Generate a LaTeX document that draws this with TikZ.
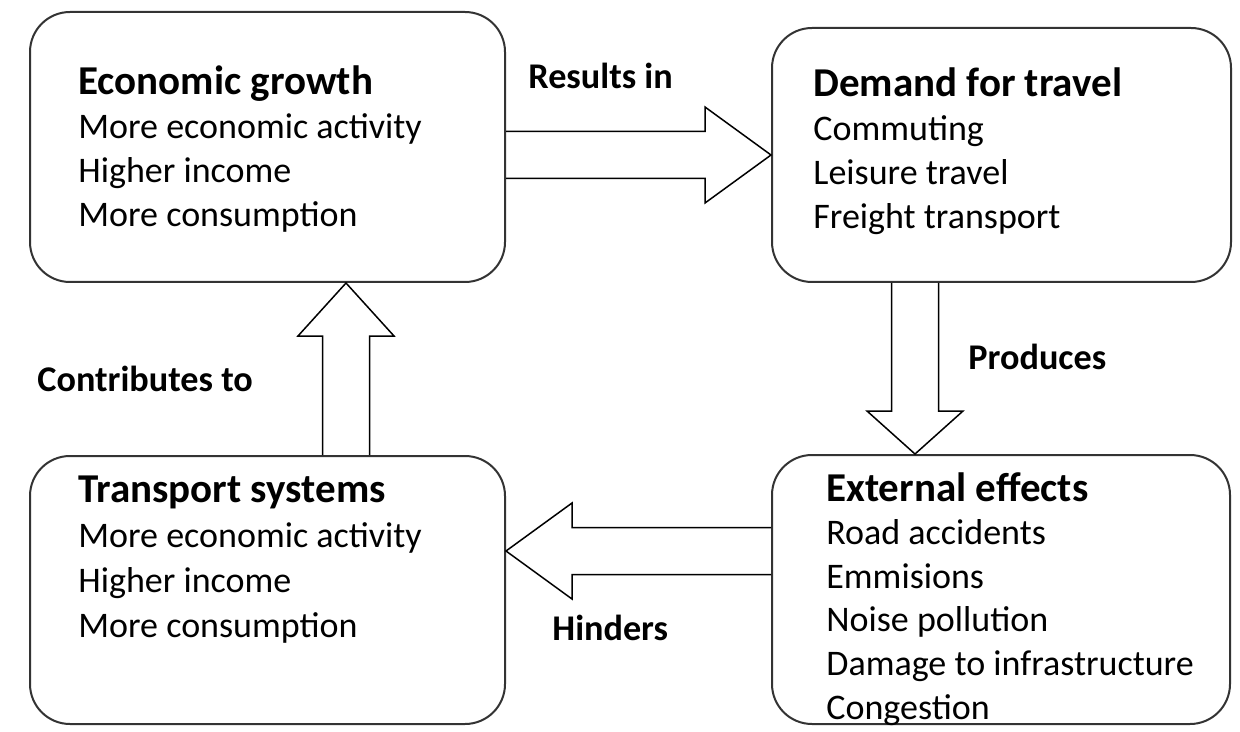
\documentclass[tikz,border=0pt]{standalone}
\usepackage{fontspec}
\setmainfont{Carlito}
\usetikzlibrary{calc}
\newcommand{\boxColor}{black!80}
\newcommand{\arrowColor}{black}
\newcommand{\shaftW}{11.75pt}
\newcommand{\headW}{24pt}
\newcommand{\drawBlockArrow}[3]{
	\coordinate (hb) at ($(#2)!#3!(#1)$);
	\draw[blockArrow] ($(#1)!\shaftW!90:(#2)$) -- ($(hb)!\shaftW!90:(#2)$)
		-- ($(hb)!\headW!90:(#2)$) -- (#2) -- ($(hb)!\headW!-90:(#2)$)
		-- ($(hb)!\shaftW!-90:(#2)$) -- ($(#1)!\shaftW!-90:(#2)$);
}
\tikzset{box/.style = {draw=\boxColor, line width=1pt, rounded corners=20pt}}
\tikzset{blockArrow/.style = {draw=\arrowColor, line width=0.75pt, line join=miter}}
\tikzset{title/.style = {font=\bfseries\fontsize{20.5}{24}\selectfont, anchor=base west, inner sep=0pt}}
\tikzset{item/.style = {font=\fontsize{18}{22}\selectfont, anchor=base west, inner sep=0pt}}
\tikzset{arrowLabel/.style = {font=\bfseries\fontsize{18.1}{22}\selectfont, anchor=base west, inner sep=0pt}}

\begin{document}
\begin{tikzpicture}[x=0.5pt, y=-0.5pt]
	\useasboundingbox (0,0) rectangle (1240,732);

	% boxes
	\node[box, minimum width=237.5pt, minimum height=135pt] (growth) at (267.5,147) {};
	\node[box, minimum width=229.5pt, minimum height=127pt] (demand) at (1001.5,155) {};
	\node[box, minimum width=237.5pt, minimum height=134pt] (transport) at (267.5,590) {};
	\node[box, minimum width=229pt, minimum height=134.5pt] (effects) at (1001,589.5) {};

	% box texts
	\node[title] (growthTitle) at (78,95) {Economic growth};
	\foreach \t [count=\i] in {More economic activity, Higher income, More consumption}
	{
		\node[item] (growth\i) at (78,95+44*\i) {\t};
	}

	\node[title] (demandTitle) at (813,97) {Demand for travel};
	\foreach \t [count=\i] in {Commuting, Leisure travel, Freight transport}
	{
		\node[item] (demand\i) at (813,97+44*\i) {\t};
	}

	\node[title] (transportTitle) at (78,502) {Transport systems};
	\foreach \t [count=\i] in {More economic activity, Higher income, More consumption}
	{
		\node[item] (transport\i) at (78,502+45*\i) {\t};
	}

	\node[title] (effectsTitle) at (826,501) {External effects};
	\foreach \t [count=\i] in {Road accidents, Emmisions, Noise pollution,
			Damage to infrastructure, Congestion}
	{
		\node[item] (effects\i) at (826,501+43.6*\i) {\t};
	}

	% block arrows
	\coordinate (upX) at (346,0);
	\coordinate (downX) at (915,0);
	\coordinate (leftY) at (0,551);
	\coordinate (resultsTail) at (growth.east |- demand.west);
	\coordinate (producesTail) at (downX |- demand.south);
	\coordinate (producesTip) at (downX |- effects.north);
	\coordinate (hindersTail) at (effects.west |- leftY);
	\coordinate (hindersTip) at (transport.east |- leftY);
	\coordinate (contribTail) at (upX |- transport.north);
	\coordinate (contribTip) at (upX |- growth.south);

	\drawBlockArrow{resultsTail}{demand.west}{33pt}
	\drawBlockArrow{producesTail}{producesTip}{21.5pt}
	\drawBlockArrow{hindersTail}{hindersTip}{33pt}
	\drawBlockArrow{contribTail}{contribTip}{26.5pt}

	% arrow labels
	\node[arrowLabel] (resultsIn) at (528,89) {Results in};
	\node[arrowLabel] (produces) at (968,369) {Produces};
	\node[arrowLabel] (contributesTo) at (37,391) {Contributes to};
	\node[arrowLabel] (hinders) at (552,640) {Hinders};
\end{tikzpicture}
\end{document}
